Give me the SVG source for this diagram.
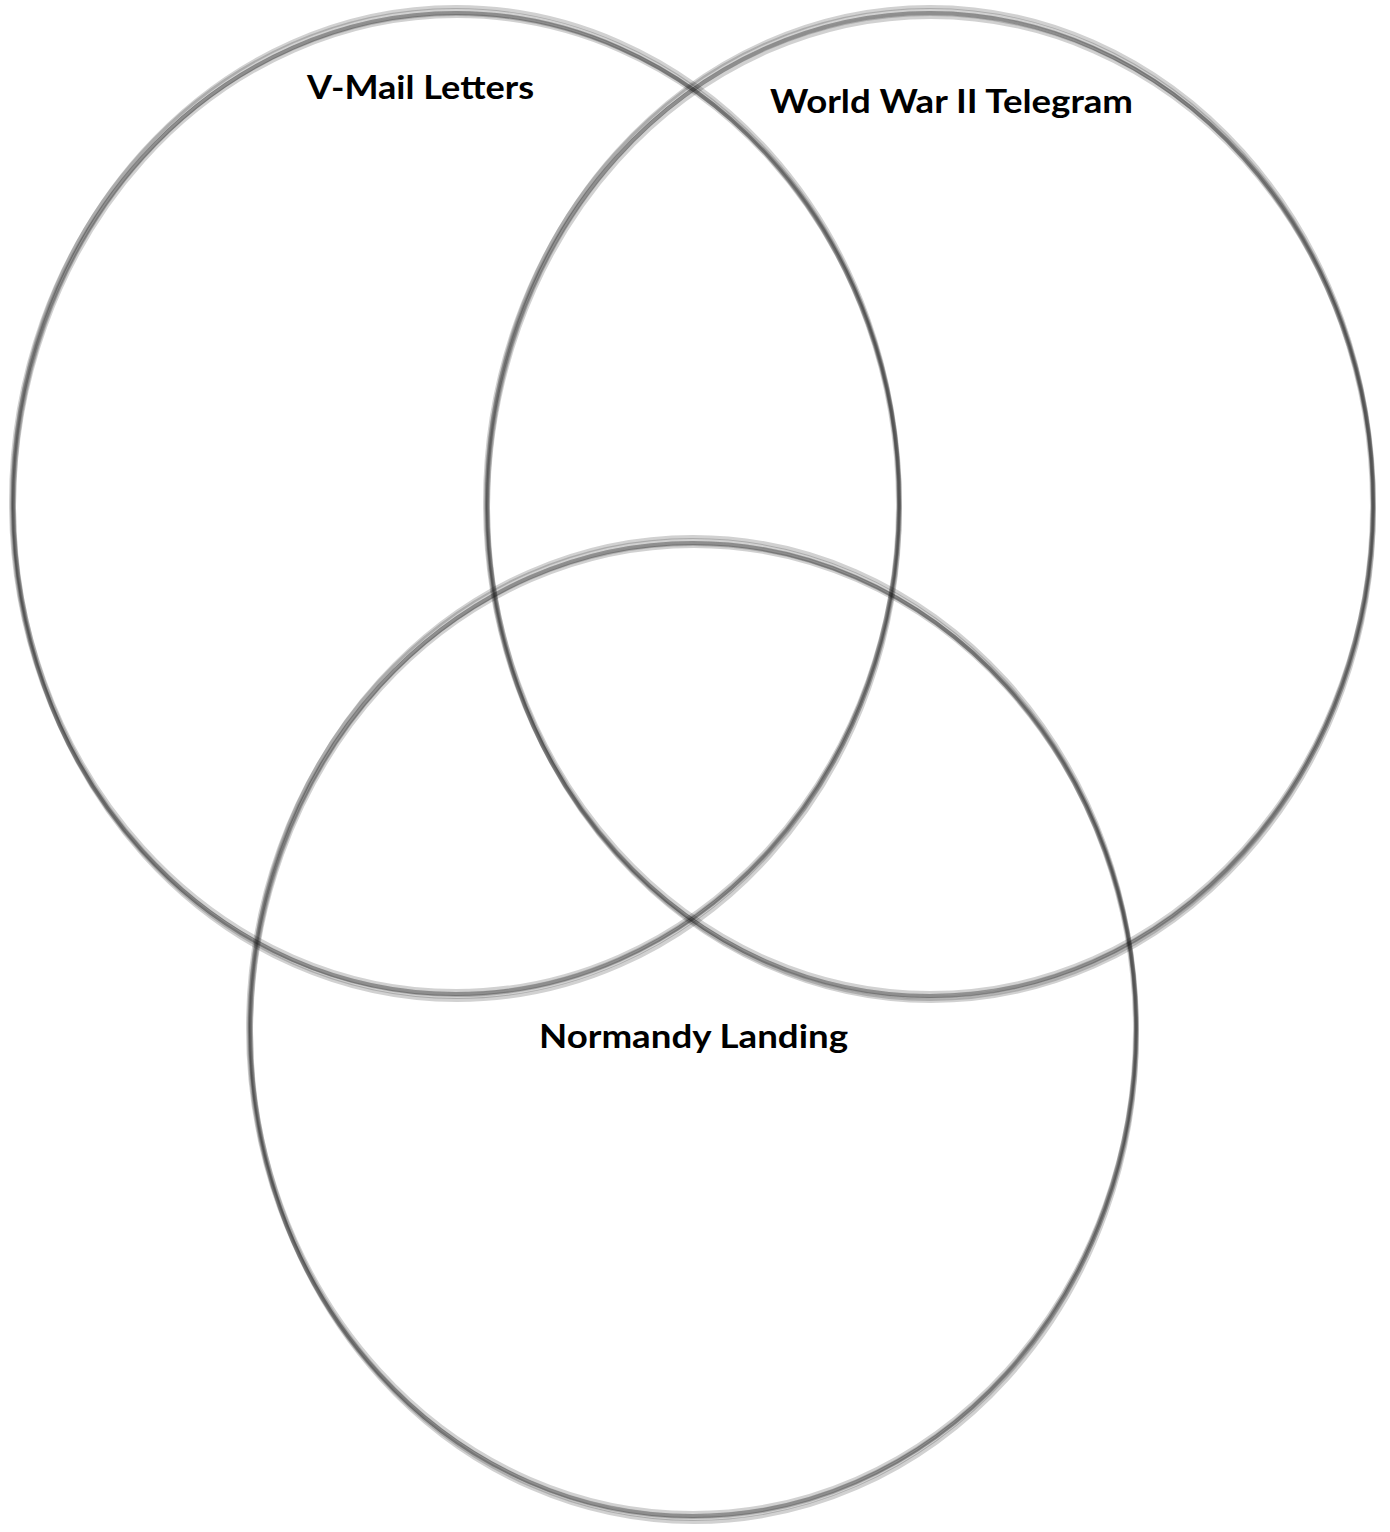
<svg xmlns="http://www.w3.org/2000/svg" width="1390" height="1532" viewBox="0 0 1390 1532">
<style>
.ring ellipse{fill:none;stroke:#1a1a1a;stroke-opacity:0.2;stroke-width:4}
.lbl{font-family:Lato,"Open Sans","Liberation Sans",sans-serif;font-weight:bold;font-size:32px;fill:#000}
</style>
<rect width="1390" height="1532" fill="#fff"/>
<g id="vmail">
<g class="ring">
<ellipse cx="456" cy="499" rx="443" ry="492"/>
<ellipse cx="455" cy="502" rx="444" ry="492"/>
<ellipse cx="456" cy="505" rx="443" ry="492"/>
<ellipse cx="457" cy="508" rx="443" ry="492"/>
<ellipse cx="456" cy="504" rx="442" ry="491"/>
<ellipse cx="456" cy="504" rx="444" ry="490"/>
</g>
<text class="lbl" x="307" y="99" textLength="227" lengthAdjust="spacingAndGlyphs">V-Mail Letters</text>
</g>
<g id="telegram">
<g class="ring">
<ellipse cx="930" cy="500" rx="443" ry="493"/>
<ellipse cx="929" cy="503" rx="444" ry="493"/>
<ellipse cx="930" cy="506" rx="443" ry="493"/>
<ellipse cx="931" cy="509" rx="443" ry="492"/>
<ellipse cx="930" cy="505" rx="442" ry="492"/>
<ellipse cx="930" cy="505" rx="444" ry="491"/>
</g>
<text class="lbl" x="770" y="113" textLength="363" lengthAdjust="spacingAndGlyphs">World War II Telegram</text>
</g>
<g id="normandy">
<g class="ring">
<ellipse cx="693" cy="1025" rx="443" ry="488"/>
<ellipse cx="692" cy="1028" rx="444" ry="488"/>
<ellipse cx="693" cy="1031" rx="443" ry="488"/>
<ellipse cx="694" cy="1034" rx="443" ry="488"/>
<ellipse cx="693" cy="1030" rx="442" ry="487"/>
<ellipse cx="693" cy="1030" rx="444" ry="486"/>
</g>
<text class="lbl" x="539" y="1048" textLength="309" lengthAdjust="spacingAndGlyphs">Normandy Landing</text>
</g>
<g id="connectors"></g>
</svg>
